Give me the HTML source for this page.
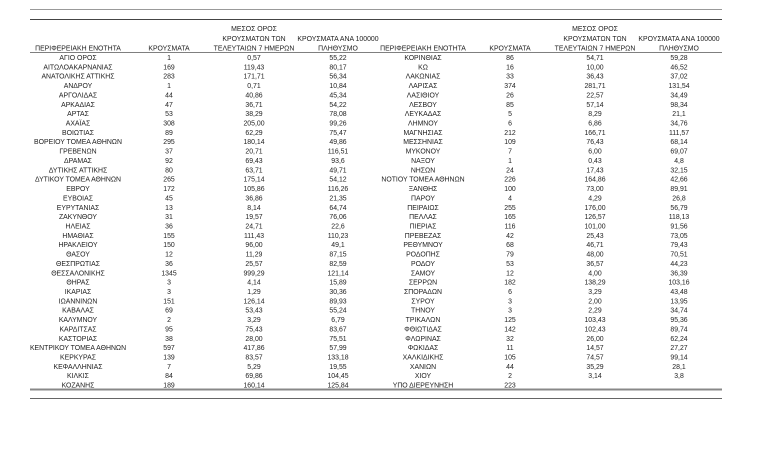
<!DOCTYPE html>
<html><head><meta charset="utf-8"><style>
html,body{margin:0;padding:0;background:#fff;width:768px;height:451px;overflow:hidden}
svg{display:block}
text{font-family:"Liberation Sans","DejaVu Sans",sans-serif;font-size:6.9px;fill:#222;text-anchor:middle}
</style></head><body>
<svg width="768" height="451" viewBox="0 0 768 451">
<line x1="30" y1="9.5" x2="722" y2="9.5" stroke="#999" stroke-width="1"/>
<line x1="30" y1="19.5" x2="722" y2="19.5" stroke="#444" stroke-width="1"/>
<line x1="30" y1="52.5" x2="722" y2="52.5" stroke="#555" stroke-width="0.8"/>
<line x1="30" y1="389.5" x2="722" y2="389.5" stroke="#888" stroke-width="2"/>
<line x1="30" y1="398.5" x2="722" y2="398.5" stroke="#666" stroke-width="1"/>
<g>
<text x="254" y="31">ΜΕΣΟΣ ΟΡΟΣ</text><text x="254" y="41">ΚΡΟΥΣΜΑΤΩΝ ΤΩΝ</text><text x="254" y="50.5">ΤΕΛΕΥΤΑΙΩΝ 7 ΗΜΕΡΩΝ</text>
<text x="338" y="41">ΚΡΟΥΣΜΑΤΑ ΑΝΑ 100000</text><text x="338" y="50.5">ΠΛΗΘΥΣΜΟ</text>
<text x="78" y="50.5">ΠΕΡΙΦΕΡΕΙΑΚΗ ΕΝΟΤΗΤΑ</text><text x="169" y="50.5">ΚΡΟΥΣΜΑΤΑ</text>
<text x="595" y="31">ΜΕΣΟΣ ΟΡΟΣ</text><text x="595" y="41">ΚΡΟΥΣΜΑΤΩΝ ΤΩΝ</text><text x="595" y="50.5">ΤΕΛΕΥΤΑΙΩΝ 7 ΗΜΕΡΩΝ</text>
<text x="679" y="41">ΚΡΟΥΣΜΑΤΑ ΑΝΑ 100000</text><text x="679" y="50.5">ΠΛΗΘΥΣΜΟ</text>
<text x="423" y="50.5">ΠΕΡΙΦΕΡΕΙΑΚΗ ΕΝΟΤΗΤΑ</text><text x="510" y="50.5">ΚΡΟΥΣΜΑΤΑ</text>
</g>
<g id="rows"></g>
</svg>
<script>
var L=[["ΑΓΙΟ ΟΡΟΣ","1","0,57","55,22"],["ΑΙΤΩΛΟΑΚΑΡΝΑΝΙΑΣ","169","119,43","80,17"],["ΑΝΑΤΟΛΙΚΗΣ ΑΤΤΙΚΗΣ","283","171,71","56,34"],["ΑΝΔΡΟΥ","1","0,71","10,84"],["ΑΡΓΟΛΙΔΑΣ","44","40,86","45,34"],["ΑΡΚΑΔΙΑΣ","47","36,71","54,22"],["ΑΡΤΑΣ","53","38,29","78,08"],["ΑΧΑΪΑΣ","308","205,00","99,26"],["ΒΟΙΩΤΙΑΣ","89","62,29","75,47"],["ΒΟΡΕΙΟΥ ΤΟΜΕΑ ΑΘΗΝΩΝ","295","180,14","49,86"],["ΓΡΕΒΕΝΩΝ","37","20,71","116,51"],["ΔΡΑΜΑΣ","92","69,43","93,6"],["ΔΥΤΙΚΗΣ ΑΤΤΙΚΗΣ","80","63,71","49,71"],["ΔΥΤΙΚΟΥ ΤΟΜΕΑ ΑΘΗΝΩΝ","265","175,14","54,12"],["ΕΒΡΟΥ","172","105,86","116,26"],["ΕΥΒΟΙΑΣ","45","36,86","21,35"],["ΕΥΡΥΤΑΝΙΑΣ","13","8,14","64,74"],["ΖΑΚΥΝΘΟΥ","31","19,57","76,06"],["ΗΛΕΙΑΣ","36","24,71","22,6"],["ΗΜΑΘΙΑΣ","155","111,43","110,23"],["ΗΡΑΚΛΕΙΟΥ","150","96,00","49,1"],["ΘΑΣΟΥ","12","11,29","87,15"],["ΘΕΣΠΡΩΤΙΑΣ","36","25,57","82,59"],["ΘΕΣΣΑΛΟΝΙΚΗΣ","1345","999,29","121,14"],["ΘΗΡΑΣ","3","4,14","15,89"],["ΙΚΑΡΙΑΣ","3","1,29","30,36"],["ΙΩΑΝΝΙΝΩΝ","151","126,14","89,93"],["ΚΑΒΑΛΑΣ","69","53,43","55,24"],["ΚΑΛΥΜΝΟΥ","2","3,29","6,79"],["ΚΑΡΔΙΤΣΑΣ","95","75,43","83,67"],["ΚΑΣΤΟΡΙΑΣ","38","28,00","75,51"],["ΚΕΝΤΡΙΚΟΥ ΤΟΜΕΑ ΑΘΗΝΩΝ","597","417,86","57,99"],["ΚΕΡΚΥΡΑΣ","139","83,57","133,18"],["ΚΕΦΑΛΛΗΝΙΑΣ","7","5,29","19,55"],["ΚΙΛΚΙΣ","84","69,86","104,45"],["ΚΟΖΑΝΗΣ","189","160,14","125,84"]];
var R=[["ΚΟΡΙΝΘΙΑΣ","86","54,71","59,28"],["ΚΩ","16","10,00","46,52"],["ΛΑΚΩΝΙΑΣ","33","36,43","37,02"],["ΛΑΡΙΣΑΣ","374","281,71","131,54"],["ΛΑΣΙΘΙΟΥ","26","22,57","34,49"],["ΛΕΣΒΟΥ","85","57,14","98,34"],["ΛΕΥΚΑΔΑΣ","5","8,29","21,1"],["ΛΗΜΝΟΥ","6","6,86","34,76"],["ΜΑΓΝΗΣΙΑΣ","212","166,71","111,57"],["ΜΕΣΣΗΝΙΑΣ","109","76,43","68,14"],["ΜΥΚΟΝΟΥ","7","6,00","69,07"],["ΝΑΞΟΥ","1","0,43","4,8"],["ΝΗΣΩΝ","24","17,43","32,15"],["ΝΟΤΙΟΥ ΤΟΜΕΑ ΑΘΗΝΩΝ","226","164,86","42,66"],["ΞΑΝΘΗΣ","100","73,00","89,91"],["ΠΑΡΟΥ","4","4,29","26,8"],["ΠΕΙΡΑΙΩΣ","255","176,00","56,79"],["ΠΕΛΛΑΣ","165","126,57","118,13"],["ΠΙΕΡΙΑΣ","116","101,00","91,56"],["ΠΡΕΒΕΖΑΣ","42","25,43","73,05"],["ΡΕΘΥΜΝΟΥ","68","46,71","79,43"],["ΡΟΔΟΠΗΣ","79","48,00","70,51"],["ΡΟΔΟΥ","53","36,57","44,23"],["ΣΑΜΟΥ","12","4,00","36,39"],["ΣΕΡΡΩΝ","182","138,29","103,16"],["ΣΠΟΡΑΔΩΝ","6","3,29","43,48"],["ΣΥΡΟΥ","3","2,00","13,95"],["ΤΗΝΟΥ","3","2,29","34,74"],["ΤΡΙΚΑΛΩΝ","125","103,43","95,36"],["ΦΘΙΩΤΙΔΑΣ","142","102,43","89,74"],["ΦΛΩΡΙΝΑΣ","32","26,00","62,24"],["ΦΩΚΙΔΑΣ","11","14,57","27,27"],["ΧΑΛΚΙΔΙΚΗΣ","105","74,57","99,14"],["ΧΑΝΙΩΝ","44","35,29","28,1"],["ΧΙΟΥ","2","3,14","3,8"],["ΥΠΟ ΔΙΕΡΕΥΝΗΣΗ","223","",""]];
var g=document.getElementById("rows"),ns="http://www.w3.org/2000/svg";
function add(rows,xs){rows.forEach(function(r,i){var y=60+i*9.36;r.forEach(function(t,j){if(!t)return;var e=document.createElementNS(ns,"text");e.setAttribute("x",xs[j]);e.setAttribute("y",y.toFixed(2));e.textContent=t;g.appendChild(e);});});}
add(L,[78,169,254,338]);add(R,[423,510,595,679]);
</script>
</body></html>
